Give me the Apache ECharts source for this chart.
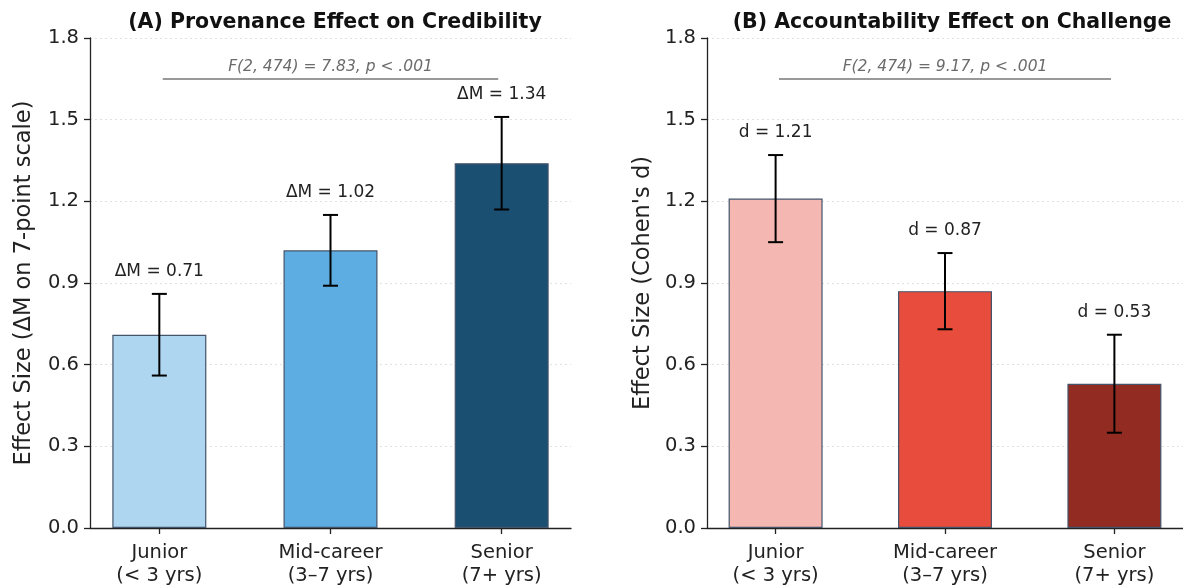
<!DOCTYPE html>
<html>
<head>
<meta charset="utf-8">
<script src="https://cdn.jsdelivr.net/npm/echarts@6/dist/echarts.min.js"></script>
<style>
html,body{margin:0;padding:0;background:#fff;}
#chart{width:1183px;height:588px;}
</style>
</head>
<body>
<div id="chart"></div>
<script>
// ---- data ----
const categories = ['Junior\n(< 3 yrs)', 'Mid-career\n(3–7 yrs)', 'Senior\n(7+ yrs)'];
const provValues = [0.71, 1.02, 1.34];
const provErrors = [0.15, 0.13, 0.17];
const accValues = [1.21, 0.87, 0.53];
const accErrors = [0.16, 0.14, 0.18];
const provLabelPrefix = 'ΔM = ';
const accLabelPrefix = 'd = ';
const titles = ['(A) Provenance Effect on Credibility', '(B) Accountability Effect on Challenge'];
const yNames = ['Effect Size (ΔM on 7-point scale)', "Effect Size (Cohen's d)"];
const statTexts = ['F(2, 474) = 7.83, p < .001', 'F(2, 474) = 9.17, p < .001'];
const statLineY = [1.65, 1.65];
const statLineX = [0.02, 1.98];
const yMin = 0, yMax = 1.8, yStep = 0.3;
const provColors = ['#AED6F1', '#5DADE2', '#1B4F72'];
const accColors = ['#F5B7B1', '#E74C3C', '#922B21'];

const FONT = '"DejaVu Sans", sans-serif';
const chart = echarts.init(document.getElementById('chart'), null, {renderer: 'canvas'});

const grids = [
  {left: 90, top: 38, width: 481, height: 490},
  {left: 707, top: 38, width: 481, height: 490}
];

function xAxisFor(i) {
  return {
    type: 'value', gridIndex: i, min: -0.405, max: 2.405,
    splitLine: {show: false},
    axisLine: {show: true, onZero: false, lineStyle: {color: '#222', width: 1.3}},
    axisTick: {show: true, customValues: [0, 1, 2], length: 6, lineStyle: {color: '#222', width: 1.3}},
    axisLabel: {
      customValues: [0, 1, 2], margin: 13,
      formatter: v => categories[Math.round(v)],
      fontFamily: FONT, fontSize: 19.5, color: '#222', lineHeight: 23
    }
  };
}
function yAxisFor(i) {
  return {
    type: 'value', gridIndex: i, min: yMin, max: yMax, interval: yStep,
    name: yNames[i], nameLocation: 'middle', nameRotate: 90,
    nameGap: i === 0 ? 54 : 52,
    nameTextStyle: {fontFamily: FONT, fontSize: 22.5, color: '#222'},
    axisLine: {show: true, onZero: false, lineStyle: {color: '#222', width: 1.3}},
    axisTick: {show: true, length: 6, lineStyle: {color: '#222', width: 1.3}},
    axisLabel: {formatter: v => v.toFixed(1), fontFamily: FONT, fontSize: 19.5, color: '#222', margin: 11},
    splitLine: {show: true, lineStyle: {color: '#d9d9d9', type: [2, 3], width: 0.8}}
  };
}

function panelSeries(i, values, errors, colors, prefix) {
  const barData = values.map((v, k) => ({value: [k, v], itemStyle: {color: colors[k]}}));
  const errData = values.map((v, k) => [k, v - errors[k], v + errors[k], v]);
  return [
    {
      type: 'bar', xAxisIndex: i, yAxisIndex: i, barWidth: 94,
      data: barData,
      itemStyle: {borderColor: '#44546a', borderWidth: 1.2},
      markLine: {
        silent: true, symbol: 'none',
        lineStyle: {color: '#777', width: 1.6, type: 'solid'},
        label: {
          show: true, position: 'middle', formatter: statTexts[i], distance: 4,
          fontFamily: FONT, fontSize: 15.5, fontStyle: 'italic', color: '#6b6b6b'
        },
        data: [[{coord: [statLineX[0], statLineY[i]]}, {coord: [statLineX[1], statLineY[i]]}]]
      },
      z: 2
    },
    {
      type: 'custom', xAxisIndex: i, yAxisIndex: i, data: errData, z: 5,
      renderItem: function (params, api) {
        const x = api.value(0), lo = api.value(1), hi = api.value(2), v = api.value(3);
        const pLo = api.coord([x, lo]);
        const pHi = api.coord([x, hi]);
        const pTxt = api.coord([x, hi + 0.05]);
        const cap = 7.5;
        const st = {stroke: '#000', lineWidth: 2};
        return {
          type: 'group',
          children: [
            {type: 'line', shape: {x1: pLo[0], y1: pLo[1], x2: pHi[0], y2: pHi[1]}, style: st},
            {type: 'line', shape: {x1: pLo[0] - cap, y1: pLo[1], x2: pLo[0] + cap, y2: pLo[1]}, style: st},
            {type: 'line', shape: {x1: pHi[0] - cap, y1: pHi[1], x2: pHi[0] + cap, y2: pHi[1]}, style: st},
            {type: 'text', x: pTxt[0], y: pTxt[1],
              style: {text: prefix + v.toFixed(2), textAlign: 'center', textVerticalAlign: 'bottom',
                font: '17px "DejaVu Sans", sans-serif', fill: '#222'}}
          ]
        };
      }
    }
  ];
}

const option = {
  backgroundColor: '#fff',
  animation: false,
  title: [
    {text: titles[0], left: 330, top: 7, textAlign: 'center',
      textStyle: {fontFamily: FONT, fontSize: 20.5, fontWeight: 'bold', color: '#111'}},
    {text: titles[1], left: 947, top: 7, textAlign: 'center',
      textStyle: {fontFamily: FONT, fontSize: 20.5, fontWeight: 'bold', color: '#111'}}
  ],
  grid: grids,
  xAxis: [xAxisFor(0), xAxisFor(1)],
  yAxis: [yAxisFor(0), yAxisFor(1)],
  series: [
    ...panelSeries(0, provValues, provErrors, provColors, provLabelPrefix),
    ...panelSeries(1, accValues, accErrors, accColors, accLabelPrefix)
  ]
};
chart.setOption(option);
</script>
</body>
</html>
